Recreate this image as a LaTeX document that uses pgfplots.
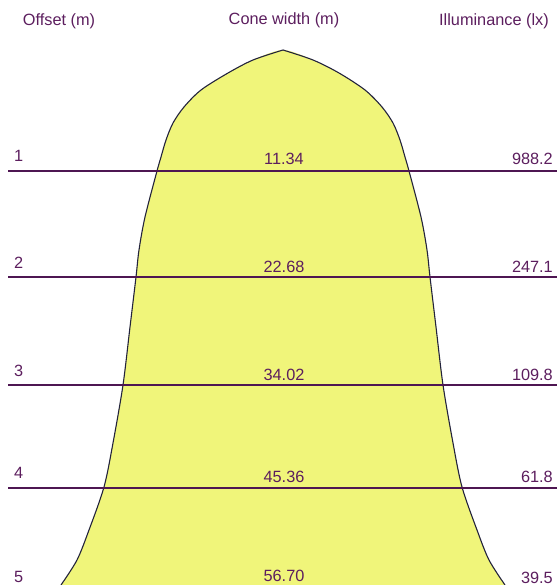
\documentclass[border=0pt]{standalone}
\usepackage{pgfplots}
\pgfplotsset{compat=1.18}
\usepackage{fontspec}
\setmainfont{Liberation Sans}
\definecolor{coneyellow}{RGB}{240,245,122}
\definecolor{coneedge}{RGB}{35,35,60}
\definecolor{rowline}{RGB}{78,22,82}
\definecolor{labtext}{RGB}{92,30,94}
\begin{document}
\begin{tikzpicture}
\begin{axis}[
  scale only axis, width=557pt, height=585pt,
  xmin=0, xmax=557, ymin=0, ymax=585, y dir=reverse,
  hide axis, clip=true,
]
% cone outline, pixel coordinates (x, row)
\addplot[draw=none, fill=coneyellow, smooth] coordinates {
  (61,585) (77,560) (89,530) (104,487) (113,443) (123,385) (130,327)
  (136,277) (139,250) (145,217) (157,171) (161,157) (166,140) (173,123) (184,107)
  (201,90) (228,73) (253,60) (283,50)
  (313,60) (339,73) (365,90) (382,107) (393,123) (400,140) (405,157)
  (409,171) (421,217) (427,250) (430,277) (436,327) (443,385) (453,443) (462,487)
  (477,530) (489,560) (505,585)
};
\addplot[coneedge, line width=1.1pt, smooth] coordinates {
  (61,585) (77,560) (89,530) (104,487) (113,443) (123,385) (130,327)
  (136,277) (139,250) (145,217) (157,171) (161,157) (166,140) (173,123) (184,107)
  (201,90) (228,73) (253,60) (283,50)
};
\addplot[coneedge, line width=1.1pt, smooth] coordinates {
  (283,50) (313,60) (339,73) (365,90) (382,107) (393,123) (400,140) (405,157)
  (409,171) (421,217) (427,250) (430,277) (436,327) (443,385) (453,443) (462,487)
  (477,530) (489,560) (505,585)
};
% offset lines
\addplot[rowline, line width=2pt] coordinates {(8,170.7) (557,170.7)};
\addplot[rowline, line width=2pt] coordinates {(8,276.8) (557,276.8)};
\addplot[rowline, line width=2pt] coordinates {(8,385) (557,385)};
\addplot[rowline, line width=2pt] coordinates {(8,487.5) (557,487.5)};
% headers
\begin{scope}[every node/.style={text=labtext, font=\fontsize{16.3}{19}\selectfont, inner sep=0pt}]
\node[anchor=base] at (axis cs:59,26) {Offset (m)};
\node[anchor=base] at (axis cs:284,25) {Cone width (m)};
\node[anchor=base east] at (axis cs:549,25.5) {Illuminance (lx)};
% offsets
\node[anchor=base west] at (axis cs:14,161.7) {1};
\node[anchor=base west] at (axis cs:14,268.3) {2};
\node[anchor=base west] at (axis cs:14,376) {3};
\node[anchor=base west] at (axis cs:14,478.5) {4};
\node[anchor=base west] at (axis cs:14,582.5) {5};
% cone widths
\node[anchor=base] at (axis cs:284,165) {11.34};
\node[anchor=base] at (axis cs:284,272.7) {22.68};
\node[anchor=base] at (axis cs:284,380) {34.02};
\node[anchor=base] at (axis cs:284,482.5) {45.36};
\node[anchor=base] at (axis cs:284,581.7) {56.70};
% illuminance
\node[anchor=base east] at (axis cs:553,165) {988.2};
\node[anchor=base east] at (axis cs:553,272.7) {247.1};
\node[anchor=base east] at (axis cs:553,380) {109.8};
\node[anchor=base east] at (axis cs:553,482.5) {61.8};
\node[anchor=base east] at (axis cs:553,583) {39.5};
\end{scope}
\end{axis}
\pgfresetboundingbox
\path[use as bounding box] (0,0) rectangle (557pt,585pt);
\end{tikzpicture}
\end{document}
